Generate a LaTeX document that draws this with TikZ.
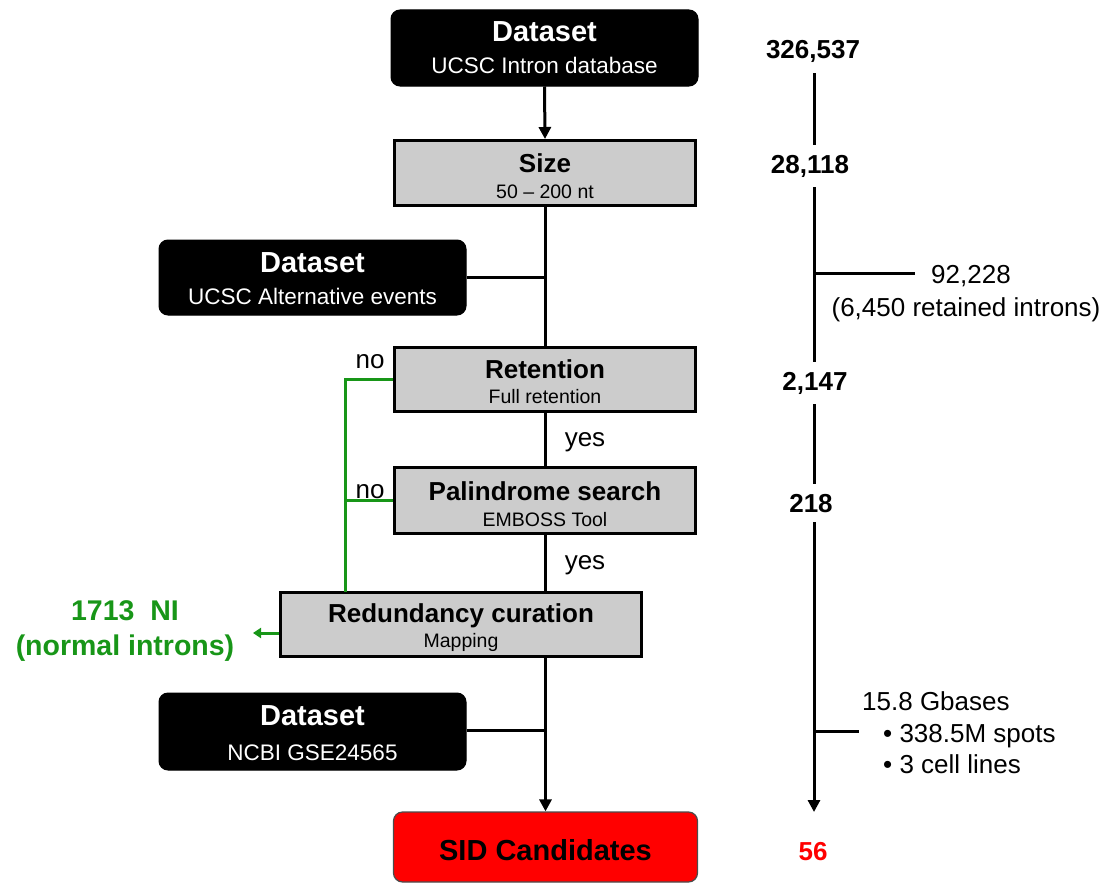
\documentclass[tikz,border=0pt]{standalone}
\usepackage{fontspec}
\setmainfont{Liberation Sans}
\usetikzlibrary{arrows.meta,calc}
\definecolor{boxgray}{RGB}{204,204,204}
\definecolor{nogreen}{RGB}{24,150,24}
\definecolor{sidred}{RGB}{255,0,0}
\newcommand{\fsz}[1]{\fontsize{#1}{#1}\selectfont}
\begin{document}
\begin{tikzpicture}[x=1pt,y=-1pt,
  blackbox/.style={fill=black, draw=black, line width=1pt, rounded corners=9pt, minimum width=307pt, inner sep=0pt},
  graybox/.style={fill=boxgray, draw=black, line width=3pt, minimum width=301pt, inner sep=0pt},
  redbox/.style={fill=sidred, draw=black!70, line width=1.2pt, rounded corners=9pt, minimum width=304pt, inner sep=0pt},
  ttlw/.style={text=white, font=\fsz{29}\bfseries, anchor=base, inner sep=0pt},
  subw/.style={text=white, font=\fsz{22.5}, anchor=base, inner sep=0pt},
  ttlg/.style={font=\fsz{26}\bfseries, anchor=base, inner sep=0pt},
  subg/.style={font=\fsz{19.5}, anchor=base, inner sep=0pt},
  num/.style={font=\fsz{26}\bfseries, anchor=base, inner xsep=0pt, inner ysep=10pt},
  txt/.style={font=\fsz{26}, anchor=base, inner sep=0pt},
  greentxt/.style={font=\fsz{28.5}\bfseries, text=nogreen, anchor=base, inner sep=0pt},
  flow/.style={line width=3pt, draw=black},
  arr/.style={flow, -{Triangle[length=12pt,width=12pt]}},
  gline/.style={line width=3pt, draw=nogreen},
  garr/.style={gline, -{Triangle[length=8pt,width=10pt]}},
]
\useasboundingbox (0,0) rectangle (1111,883);

% ---- left flow boxes ----
\node[blackbox, minimum height=76pt] (ds1) at (544.5,48) {};
\node[ttlw] (ds1t) at (544.5,42) {Dataset};
\node[subw] (ds1s) at (544.5,74) {UCSC Intron database};

\node[graybox, minimum height=65pt] (size) at (545,173) {};
\node[ttlg] (sizet) at (545,172) {Size};
\node[subg] (sizes) at (545,198) {50 -- 200 nt};

\node[blackbox, minimum height=75pt] (ds2) at (312.5,277.5) {};
\node[ttlw] (ds2t) at (312.5,272) {Dataset};
\node[subw] (ds2s) at (312.5,304) {UCSC Alternative events};

\node[graybox, minimum height=64pt] (ret) at (545,379) {};
\node[ttlg] (rett) at (545,378) {Retention};
\node[subg] (rets) at (545,403) {Full retention};

\node[graybox, minimum height=66pt] (pal) at (545,500) {};
\node[ttlg] (palt) at (545,500) {Palindrome search};
\node[subg] (pals) at (545,526) {EMBOSS Tool};

\node[graybox, minimum width=361pt, minimum height=64pt] (red) at (461,624) {};
\node[ttlg] (redt) at (461,622) {Redundancy curation};
\node[subg] (reds) at (461,647) {Mapping};

\node[blackbox, minimum height=77pt] (ds3) at (312.5,731.5) {};
\node[ttlw] (ds3t) at (312.5,725) {Dataset};
\node[subw] (ds3s) at (312.5,760) {NCBI GSE24565};

\node[redbox, minimum height=70pt] (sid) at (545.5,847) {};
\node[font=\fsz{29}\bfseries, anchor=base, inner sep=0pt] (sidt) at (545.5,860) {SID Candidates};

% ---- labels ----
\node[txt] (no1) at (370,368) {no};
\node[txt] (no2) at (370,498) {no};
\node[txt] (yes1) at (585,446) {yes};
\node[txt] (yes2) at (585,569) {yes};
\node[greentxt] (ni1) at (125,620) {1713\ \ NI};
\node[greentxt] (ni2) at (125,655) {(normal introns)};

% ---- main trunk ----
\coordinate (m1) at (545,277);
\coordinate (m2) at (545,730);
\draw[arr] (ds1.south) -- (size.north);
\draw[flow] (size.south) -- (ret.north);
\draw[flow] (ds2.east |- m1) -- (m1);
\draw[flow] (ret.south) -- (pal.north);
\draw[flow] (pal.south) -- (pal.south |- red.north);
\draw[arr] (red.south -| sid.north) -- (sid.north);
\draw[flow] (ds3.east |- m2) -- (m2);

% ---- green rejections ----
\coordinate (g) at (345,592);
\draw[gline] (ret.west) -| (g);
\draw[gline] (pal.west) -- (pal.west -| g);
\draw[garr] ([yshift=-9pt]red.west) -- ++(-26,0);

% ---- right column ----
\node[num] (n1) at (813,59) {326,537};
\node[num] (n2) at (810,173) {28,118};
\node[num] (n3) at (815,390) {2,147};
\node[num] (n4) at (811,512) {218};
\node[num, text=sidred, inner ysep=0pt] (n5) at (813,860) {56};
\coordinate (tipr) at (814,812);
\draw[flow] (n1.south -| tipr) -- (n2.north -| tipr);
\draw[flow] (n2.south -| tipr) -- (n3.north -| tipr);
\draw[flow] (n3.south -| tipr) -- (n4.north -| tipr);
\draw[arr] (n4.south -| tipr) -- (tipr);

\coordinate (j1) at (814,273);
\coordinate (e1) at (915,273);
\draw[flow] (j1) -- (e1);
\node[txt] (b1a) at (971,283) {92,228};
\node[txt] (b1b) at (966,316) {(6,450 retained introns)};

\coordinate (j2) at (814,731);
\coordinate (e2) at (859,731);
\draw[flow] (j2) -- (e2);
\node[txt, anchor=base west] (b2a) at (862,710) {15.8 Gbases};
\node[txt, anchor=base west] (b2b) at (883,742) {\textbullet\ 338.5M spots};
\node[txt, anchor=base west] (b2c) at (883,773) {\textbullet\ 3 cell lines};
\end{tikzpicture}
\end{document}
